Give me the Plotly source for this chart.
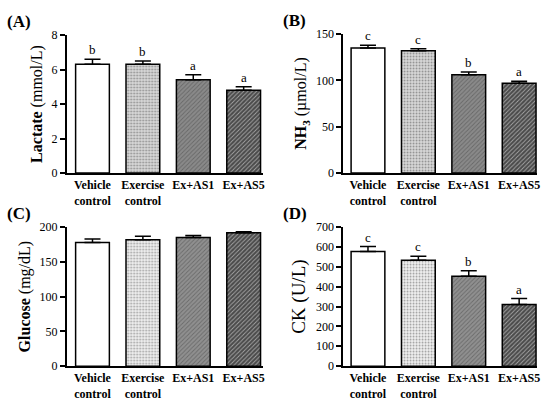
import plotly.graph_objects as go
from plotly.subplots import make_subplots

# Data
groups = ['Vehicle<br>control', 'Exercise<br>control', 'Ex+AS1', 'Ex+AS5']

lactate = [6.3, 6.3, 5.4, 4.8]
lactate_err = [0.3, 0.2, 0.3, 0.2]
lactate_sig = ['b', 'b', 'a', 'a']

nh3 = [135, 132, 106, 97]
nh3_err = [3, 2, 3, 2]
nh3_sig = ['c', 'c', 'b', 'a']

glucose = [178, 182, 185, 192]
glucose_err = [5, 5, 3, 1.5]
glucose_sig = ['', '', '', '']

ck = [577, 533, 453, 310]
ck_err = [25, 20, 27, 30]
ck_sig = ['c', 'c', 'b', 'a']

panels = [
    ('(A)', lactate, lactate_err, lactate_sig, '<b>Lactate</b> (mmol/L)', [0, 8], 2),
    ('(B)', nh3, nh3_err, nh3_sig, '<b>NH<sub>3</sub></b> (µmol/L)', [0, 150], 50),
    ('(C)', glucose, glucose_err, glucose_sig, '<b>Glucose</b> (mg/dL)', [0, 200], 50),
    ('(D)', ck, ck_err, ck_sig, 'CK (U/L)', [0, 700], 100),
]
title_sizes = [16, 16, 16, 19]

# bar looks: (bg colour, pattern shape, pattern colour)
looks_top = [('white', '', 'black'), ('#d9d9d9', '.', '#a8a8a8'),
             ('#8a8a8a', '/', '#5a5a5a'), ('#4a4a4a', '/', '#333333')]
looks_bottom = [('white', '', 'black'), ('#f2f2f2', '.', '#b0b0b0'),
                ('#909090', '/', '#5a5a5a'), ('#4a4a4a', '/', '#333333')]

font_name = 'Liberation Serif, Times New Roman, serif'
W, H = 550, 405

fig = make_subplots(rows=2, cols=2)

# pixel boxes of the four plot areas: x0, x1, ytop, ybottom
boxes = [(67, 264, 29, 172), (345, 540, 28, 172), (67, 264, 228, 372), (345, 540, 228, 372)]
centers = [(93, 245), (370, 522), (93, 245), (370, 522)]

for i, (lab, vals, errs, sig, ytitle, yr, dt) in enumerate(panels):
    r, c = i // 2 + 1, i % 2 + 1
    looks = looks_top if r == 1 else looks_bottom
    fig.add_trace(go.Bar(
        x=list(range(len(groups))), y=vals,
        width=0.67,
        marker=dict(
            color=[lk[0] for lk in looks],
            line=dict(color='black', width=1.5),
            pattern=dict(shape=[lk[1] for lk in looks],
                         fgcolor=[lk[2] for lk in looks],
                         size=3, solidity=0.3),
        ),
        error_y=dict(type='data', array=errs, arrayminus=[0] * len(errs),
                     symmetric=False, color='black', thickness=1.5, width=8),
        showlegend=False,
    ), row=r, col=c)

    x0, x1, yt, yb = boxes[i]
    c0, c3 = centers[i]
    unit = (c3 - c0) / 3
    xr = [(x0 - c0) / unit, (x1 - c0) / unit]
    fig.update_xaxes(
        domain=[x0 / W, x1 / W], range=xr,
        tickvals=list(range(len(groups))), ticktext=['<b>%s</b>' % g for g in groups],
        ticks='', showline=True, linecolor='black', linewidth=1.5,
        showgrid=False, zeroline=False,
        tickfont=dict(family=font_name, size=12, color='black'),
        row=r, col=c,
    )
    fig.update_yaxes(
        domain=[1 - yb / H, 1 - yt / H], range=yr, dtick=dt,
        ticks='outside', ticklen=5, tickwidth=1.5, tickcolor='black',
        showline=True, linecolor='black', linewidth=1.5,
        showgrid=False, zeroline=False,
        tickfont=dict(family=font_name, size=12, color='black'),
        title=dict(text=ytitle, font=dict(family=font_name, size=title_sizes[i], color='black'),
                   standoff=5),
        row=r, col=c,
    )

    # significance letters above error bars
    xref = 'x' if i == 0 else 'x%d' % (i + 1)
    yref = 'y' if i == 0 else 'y%d' % (i + 1)
    for k, s in enumerate(sig):
        if s:
            fig.add_annotation(x=k, y=vals[k] + errs[k], xref=xref, yref=yref,
                               text=s, showarrow=False, yanchor='bottom', yshift=0,
                               font=dict(family=font_name, size=13, color='black'))

    # panel label
    fig.add_annotation(x=(5 if c == 1 else 283) / W, y=1 - (yt - 14) / H,
                       xref='paper', yref='paper', text='<b>%s</b>' % lab,
                       showarrow=False, xanchor='left', yanchor='middle',
                       font=dict(family=font_name, size=17, color='black'))

fig.update_layout(
    width=W, height=H,
    margin=dict(l=0, r=0, t=0, b=0),
    font=dict(family=font_name, color='black'),
    plot_bgcolor='white', paper_bgcolor='white',
    bargap=0.33,
)

fig.write_html('out.html', config={'displayModeBar': False},
               post_script="document.body.style.margin='0';document.body.style.overflow='hidden';")
